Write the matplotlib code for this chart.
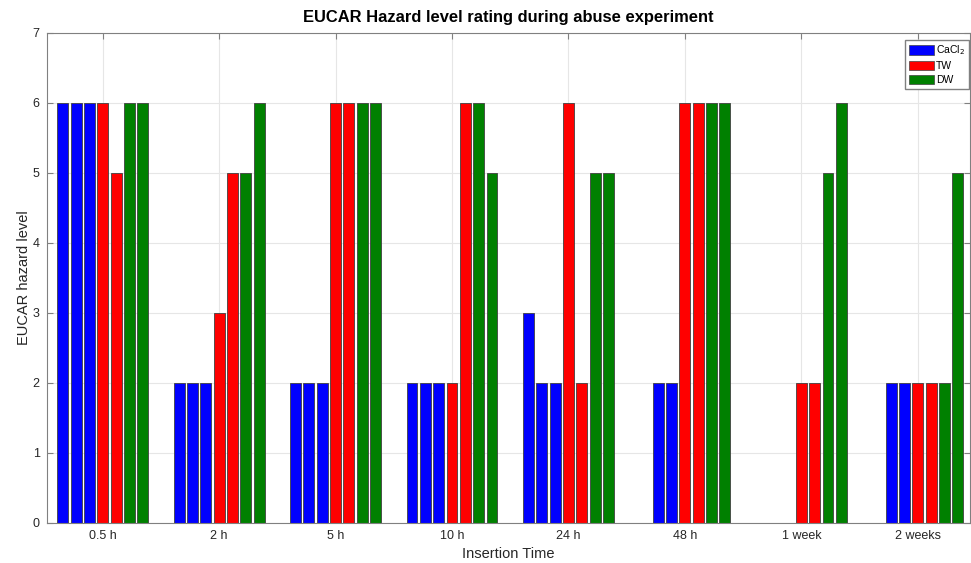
import numpy as np
import matplotlib
matplotlib.use('Agg')
import matplotlib.pyplot as plt
from matplotlib.patches import Patch

plt.rcParams['font.family'] = ['Liberation Sans', 'DejaVu Sans']

times = ['0.5 h', '2 h', '5 h', '10 h', '24 h', '48 h', '1 week', '2 weeks']
# three CaCl2 samples, two TW samples, two DW samples per insertion time
cacl2_1 = [6, 2, 2, 2, 3, 0, 0, 0]
cacl2_2 = [6, 2, 2, 2, 2, 2, 0, 2]
cacl2_3 = [6, 2, 2, 2, 2, 2, 0, 2]
tw_1 = [6, 3, 6, 2, 6, 6, 2, 2]
tw_2 = [5, 5, 6, 6, 2, 6, 2, 2]
dw_1 = [6, 5, 6, 6, 5, 6, 5, 2]
dw_2 = [6, 6, 6, 5, 5, 6, 6, 5]

series = [cacl2_1, cacl2_2, cacl2_3, tw_1, tw_2, dw_1, dw_2]
blue, red, green = '#0000ff', '#ff0000', '#008000'
colors = [blue, blue, blue, red, red, green, green]

fig = plt.figure(figsize=(9.71, 5.63), dpi=100)
ax = fig.add_axes([0.0481, 0.0716, 0.9509, 0.8703])

x = np.arange(1, len(times) + 1)
step, width = 0.1145, 0.094
for i, (vals, c) in enumerate(zip(series, colors)):
    ax.bar(x + (i - 3) * step, vals, width=width, color=c,
           edgecolor='#404040', linewidth=0.6, zorder=2)

ax.set_xlim(0.519, 8.449)
ax.set_ylim(0, 7)
ax.set_xticks(x)
ax.set_xticklabels(times)
ax.set_yticks(range(8))
ax.grid(True, color='#e6e6e6', linewidth=0.8, zorder=0)
ax.set_axisbelow(True)
ax.tick_params(direction='in', length=4, color='#808080', labelsize=9,
               labelcolor='#262626', top=True, right=True, pad=5)
for s in ax.spines.values():
    s.set_color('#808080')
    s.set_linewidth(0.8)

ax.set_title('EUCAR Hazard level rating during abuse experiment',
             fontsize=11.9, fontweight='bold', pad=8)
ax.set_xlabel('Insertion Time', fontsize=10.5, color='#262626', labelpad=4)
ax.set_ylabel('EUCAR hazard level', fontsize=10.5, color='#262626', labelpad=1)

handles = [Patch(facecolor=blue, edgecolor='#404040', linewidth=0.5),
           Patch(facecolor=red, edgecolor='#404040', linewidth=0.5),
           Patch(facecolor=green, edgecolor='#404040', linewidth=0.5)]
ax.legend(handles, ['CaCl$_2$', 'TW', 'DW'], loc='upper right',
          bbox_to_anchor=(969 / 971, 1 - 39.5 / 563),
          bbox_transform=fig.transFigure, fontsize=7.5,
          fancybox=False, edgecolor='#808080', framealpha=1,
          handlelength=2.4, handleheight=1.0, handletextpad=0.15,
          labelspacing=0.35, borderpad=0.4, borderaxespad=0)

fig.savefig('out.png', dpi=100)
